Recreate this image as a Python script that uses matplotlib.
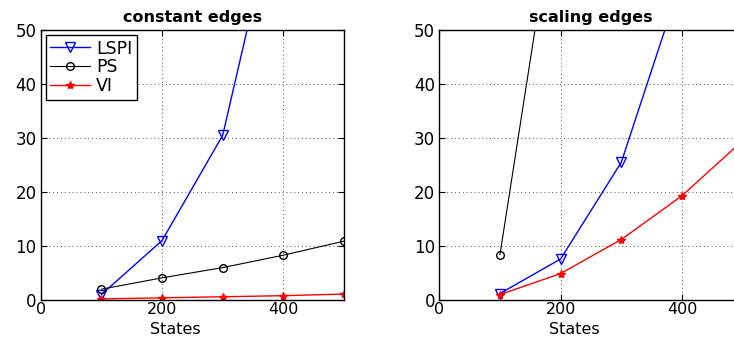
import matplotlib
matplotlib.use("Agg")
import matplotlib.pyplot as plt

plt.rcParams['font.family'] = ['DejaVu Sans']

states = [100, 200, 300, 400, 500]

# constant edges
const_lspi = [1.0, 11.0, 30.5, 79.0, 180.0]
const_ps = [2.0, 4.1, 6.0, 8.3, 10.9]
const_vi = [0.2, 0.4, 0.6, 0.8, 1.1]

# scaling edges
scale_lspi = [1.2, 7.6, 25.5, 59.6, 130.0]
scale_ps = [8.4, 80.5, 300.0, 700.0, 1400.0]
scale_vi = [1.0, 4.9, 11.2, 19.3, 29.5]

xticks = [0, 200, 400]
yticks = [0, 10, 20, 30, 40, 50]

W, H = 734, 338
fig = plt.figure(figsize=(W / 100, H / 100), dpi=100)

top, bottom = 30, 300
ax1 = fig.add_axes([40.7 / W, 1 - bottom / H, 303.3 / W, (bottom - top) / H])
ax2 = fig.add_axes([439.3 / W, 1 - bottom / H, 303.3 / W, (bottom - top) / H])

def style(ax, title):
    ax.set_xlim(0, 500)
    ax.set_ylim(0, 50)
    ax.set_xticks(xticks)
    ax.set_yticks(yticks)
    ax.tick_params(direction='in', labelsize=12, length=4, width=0.8,
                   top=True, right=True, pad=3)
    ax.tick_params(axis='x', labelsize=11.5, pad=1.5)
    ax.grid(True, linestyle=(0, (1, 3)), color='#555555', linewidth=0.7)
    ax.set_title(title, fontsize=11.5, fontweight='bold', pad=6)
    ax.set_xlabel('States', fontsize=11.5, va='bottom')
    ax.xaxis.set_label_coords(0.445, -(H - bottom - 0.5) / (bottom - top))
    for s in ax.spines.values():
        s.set_linewidth(1.0)

ax1.plot(states, const_lspi, color='#0000ff', marker='v', mfc='none', label='LSPI',
         linewidth=1.0, markersize=7)
ax1.plot(states, const_ps, color='black', marker='o', mfc='none', label='PS',
         markersize=5.5, linewidth=0.8)
ax1.plot(states, const_vi, color='#ff0000', marker='*', label='VI',
         linewidth=1.0, markersize=6)
style(ax1, 'constant edges')
leg = ax1.legend(loc='upper left', fontsize=12.5, frameon=True, fancybox=False,
                 edgecolor='black', framealpha=1, borderaxespad=0.3,
                 handlelength=2.3, handletextpad=0.35, labelspacing=0.05, borderpad=0.25)
leg.get_frame().set_linewidth(1.0)

ax2.plot(states, scale_ps, color='black', marker='o', mfc='none', markersize=5.5, linewidth=0.8)
ax2.plot(states, scale_lspi, color='#0000ff', marker='v', mfc='none', linewidth=1.0, markersize=7)
ax2.plot(states, scale_vi, color='#ff0000', marker='*', linewidth=1.0, markersize=6)
style(ax2, 'scaling edges')

fig.savefig('out.png', dpi=100)
